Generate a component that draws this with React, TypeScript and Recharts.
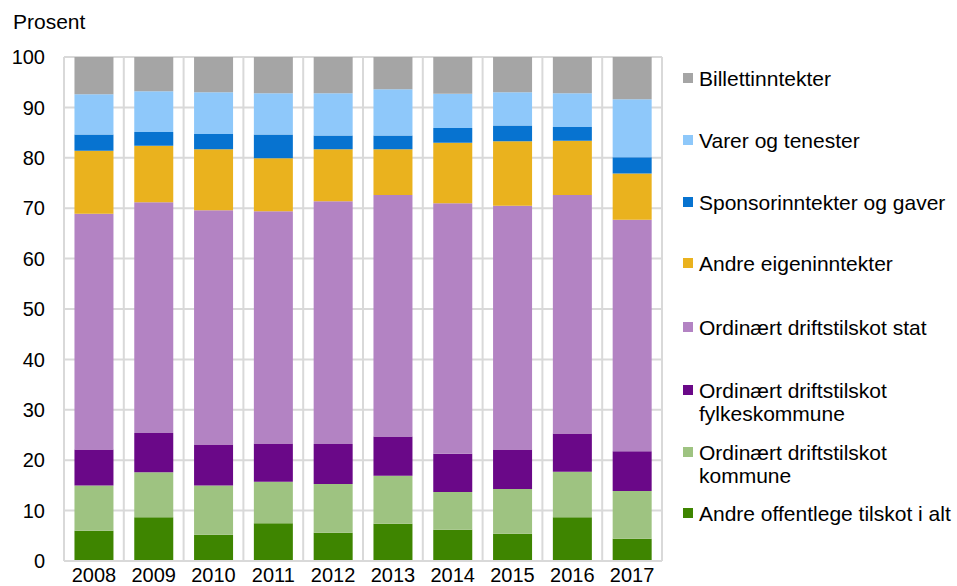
import React from "react";
import { BarChart, Bar, XAxis, YAxis, CartesianGrid } from "recharts";

const years = ["2008", "2009", "2010", "2011", "2012", "2013", "2014", "2015", "2016", "2017"];

const andreOffentlege = [6.0, 8.7, 5.2, 7.5, 5.6, 7.4, 6.2, 5.4, 8.7, 4.4];
const kommune = [9.0, 8.9, 9.8, 8.2, 9.7, 9.5, 7.5, 8.9, 9.0, 9.5];
const fylkeskommune = [7.1, 7.8, 8.1, 7.6, 7.9, 7.8, 7.6, 7.8, 7.6, 7.9];
const stat = [46.8, 45.8, 46.5, 46.1, 48.2, 47.9, 49.7, 48.4, 47.3, 45.9];
const andreEigen = [12.5, 11.2, 12.1, 10.5, 10.3, 9.1, 12.0, 12.8, 10.8, 9.2];
const sponsor = [3.2, 2.7, 3.0, 4.7, 2.7, 2.7, 2.9, 3.1, 2.7, 3.2];
const varer = [8.0, 8.1, 8.3, 8.2, 8.4, 9.2, 6.8, 6.6, 6.7, 11.5];
const billett = [7.4, 6.8, 7.0, 7.2, 7.2, 6.4, 7.3, 7.0, 7.2, 8.4];

const yTicks = [0, 10, 20, 30, 40, 50, 60, 70, 80, 90, 100];

// bottom to top stacking order
const series = [
  { key: "andreOffentlege", name: "Andre offentlege tilskot i alt", color: "#3E8500", values: andreOffentlege },
  { key: "kommune", name: "Ordinært driftstilskot\nkommune", color: "#9EC381", values: kommune },
  { key: "fylkeskommune", name: "Ordinært driftstilskot\nfylkeskommune", color: "#6A0888", values: fylkeskommune },
  { key: "stat", name: "Ordinært driftstilskot stat", color: "#B383C3", values: stat },
  { key: "andreEigen", name: "Andre eigeninntekter", color: "#EAB21E", values: andreEigen },
  { key: "sponsor", name: "Sponsorinntekter og gaver", color: "#0773D0", values: sponsor },
  { key: "varer", name: "Varer og tenester", color: "#8EC8FA", values: varer },
  { key: "billett", name: "Billettinntekter", color: "#A5A5A5", values: billett },
];

const data = years.map((year, i) => {
  const row: Record<string, string | number> = { year };
  series.forEach((s) => {
    row[s.key] = s.values[i];
  });
  return row;
});

const FONT = '"Liberation Sans", Arial, sans-serif';
const GRID = "#d9d9d9";

// legend item first-line centre positions (px, from top of chart)
const legendTops = [78, 140, 202, 263, 327, 390, 452, 513];

export default function App() {
  const legendItems = [...series].reverse();
  return (
    <div style={{ position: "absolute", left: 0, top: 0, width: 957, height: 586, fontFamily: FONT, background: "#fff" }}>
      <BarChart
        width={957}
        height={586}
        data={data}
        margin={{ top: 57, right: 295, bottom: 0, left: 0 }}
        barCategoryGap="17.5%"
      >
        <CartesianGrid
          stroke={GRID}
          strokeWidth={2}
          verticalCoordinatesGenerator={({ offset }: any) =>
            Array.from({ length: years.length + 1 }, (_, i) => offset.left + (i * offset.width) / years.length)
          }
        />
        <XAxis
          dataKey="year"
          height={25}
          tickLine={false}
          tickSize={0}
          tickMargin={7}
          axisLine={{ stroke: GRID, strokeWidth: 2 }}
          tick={{ fill: "#000", fontSize: 20, fontFamily: FONT }}
          interval={0}
        />
        <YAxis
          width={64}
          domain={[0, 100]}
          ticks={yTicks}
          interval={0}
          tickLine={false}
          tickSize={0}
          tickMargin={19}
          axisLine={{ stroke: GRID, strokeWidth: 2 }}
          tick={{ fill: "#000", fontSize: 20, fontFamily: FONT }}
        />
        {series.map((s) => (
          <Bar key={s.key} dataKey={s.key} name={s.name} stackId="a" fill={s.color} isAnimationActive={false} />
        ))}
      </BarChart>
      <div style={{ position: "absolute", left: 13, top: 9, fontSize: 21, color: "#000", lineHeight: "26px" }}>
        Prosent
      </div>
      {legendItems.map((s, i) => (
        <div
          key={s.key}
          style={{
            position: "absolute",
            left: 683,
            top: legendTops[i] - 11.5,
            display: "flex",
            alignItems: "flex-start",
            fontSize: 21,
            lineHeight: "23px",
            color: "#000",
          }}
        >
          <div style={{ width: 10, height: 10, background: s.color, marginTop: 6.5, marginRight: 6 }} />
          <div style={{ whiteSpace: "pre-line" }}>{s.name}</div>
        </div>
      ))}
    </div>
  );
}
